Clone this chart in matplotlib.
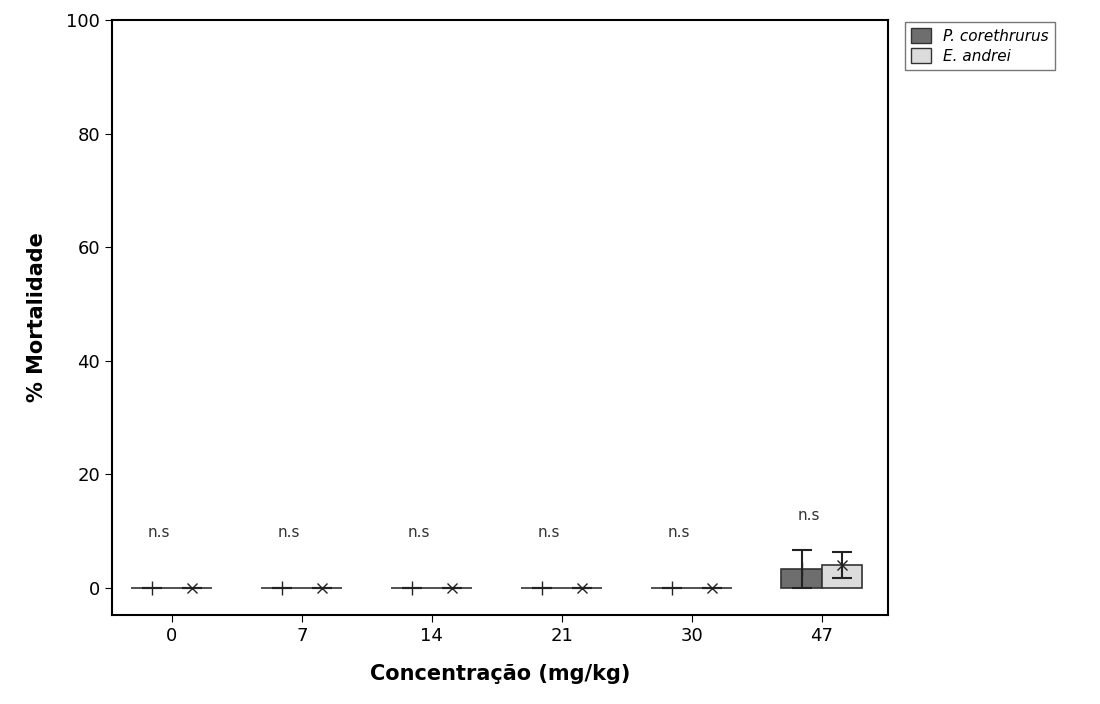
import matplotlib.pyplot as plt
import numpy as np
from matplotlib.patches import Patch

conc = ['0', '7', '14', '21', '30', '47']
p_mean = [0, 0, 0, 0, 0, 3.33]
p_err = [0, 0, 0, 0, 0, 3.33]
e_mean = [0, 0, 0, 0, 0, 4.0]
e_err = [0, 0, 0, 0, 0, 2.3]
sig = ['n.s'] * 6
sig_y = [9, 9, 9, 9, 9, 12]

fig = plt.figure(figsize=(11, 7.04), dpi=100)
ax = fig.add_axes([112/1100, 1-615/704, 776/1100, 595/704])
x = np.arange(len(conc))
w = 0.31
ax.bar(x - w/2, p_mean, w, color='#6e6e6e', edgecolor='#333333', linewidth=1.2)
ax.bar(x + w/2, e_mean, w, color='#dcdcdc', edgecolor='#333333', linewidth=1.2)
ax.errorbar(x - w/2, p_mean, yerr=p_err, fmt='|', color='#222222', ms=10, capsize=7, elinewidth=1.5, capthick=1.5)
ax.errorbar(x + w/2, e_mean, yerr=e_err, fmt='x', color='#222222', ms=7, capsize=7, elinewidth=1.5, capthick=1.5)
for xi, s, yy in zip(x, sig, sig_y):
    ax.text(xi - 0.1, yy, s, ha='center', fontsize=11, color='#333333')

ax.set_xlim(-0.46, 5.51)
ax.set_ylim(-4.75, 100)
ax.set_xticks(x)
ax.set_xticklabels(conc, fontsize=13)
ax.set_yticks([0, 20, 40, 60, 80, 100])
ax.tick_params(labelsize=13, length=5)
for s in ax.spines.values():
    s.set_linewidth(1.5)
ax.set_xlabel('Concentração (mg/kg)', fontsize=15, fontweight='bold', labelpad=14)
ax.set_ylabel('% Mortalidade', fontsize=15, fontweight='bold', labelpad=14)

handles = [Patch(facecolor='#6e6e6e', edgecolor='#333333'),
           Patch(facecolor='#dcdcdc', edgecolor='#333333')]
fig.legend(handles, ['P. corethrurus', 'E. andrei'], loc='upper left',
           bbox_to_anchor=(905/1100, 1-22/704), prop={'style': 'italic', 'size': 11},
           frameon=True, fancybox=False, edgecolor='#555555', handlelength=1.3,
           handleheight=1.1, borderaxespad=0, labelspacing=0.3)
fig.savefig('out.png')
